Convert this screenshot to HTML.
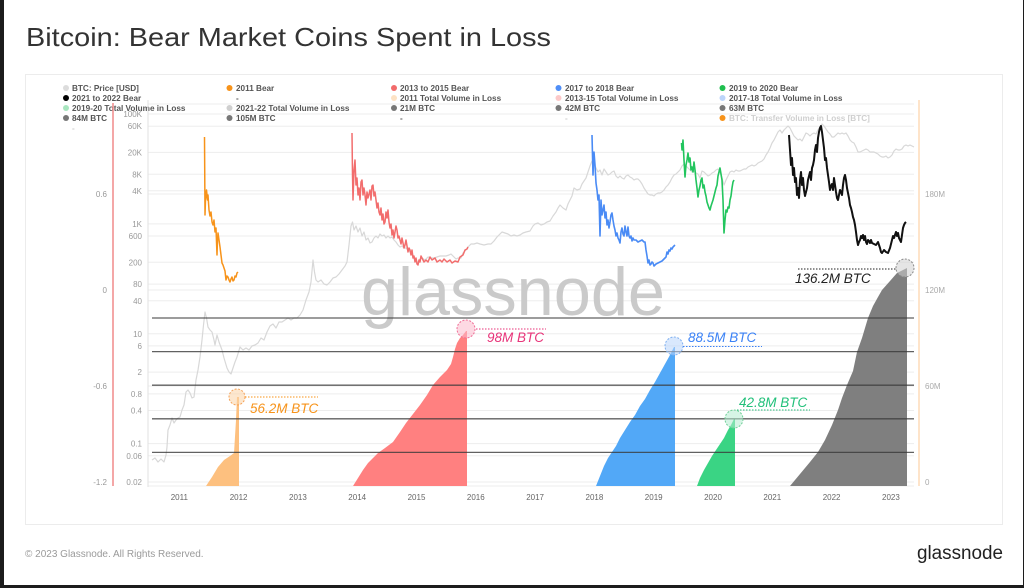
<!DOCTYPE html>
<html>
<head>
<meta charset="utf-8">
<style>
html,body{margin:0;padding:0;background:#fff;}
svg{display:block;font-family:"Liberation Sans",Arial,sans-serif;}
</style>
</head>
<body>
<svg width="1024" height="588" viewBox="0 0 1024 588" xmlns="http://www.w3.org/2000/svg">
<rect x="0" y="0" width="1024" height="588" fill="#ffffff"/>
<!-- dark screenshot borders -->
<rect x="0" y="0" width="4" height="588" fill="#1c1c1c"/>
<rect x="0" y="585" width="1024" height="3" fill="#1c1c1c"/>
<rect x="1023" y="0" width="1" height="588" fill="#1c1c1c"/>

<!-- title -->
<text x="26" y="46" font-size="26" fill="#333" textLength="525" lengthAdjust="spacingAndGlyphs">Bitcoin: Bear Market Coins Spent in Loss</text>

<!-- container -->
<rect x="25.5" y="74.5" width="977" height="450" fill="none" stroke="#ececec" stroke-width="1"/>

<!-- legend -->
<g font-size="8.2" font-weight="bold" fill="#555">
  <circle cx="66" cy="88" r="3" fill="#dcdcdc"/><text x="72" y="91">BTC: Price [USD]</text>
  <circle cx="229.5" cy="88" r="3" fill="#f7931a"/><text x="236" y="91">2011 Bear</text>
  <circle cx="394" cy="88" r="3" fill="#f26b6b"/><text x="400" y="91">2013 to 2015 Bear</text>
  <circle cx="558.5" cy="88" r="3" fill="#4f8ef7"/><text x="565" y="91">2017 to 2018 Bear</text>
  <circle cx="722.5" cy="88" r="3" fill="#1fbf4f"/><text x="729" y="91">2019 to 2020 Bear</text>

  <circle cx="66" cy="98" r="3" fill="#000"/><text x="72" y="101">2021 to 2022 Bear</text>
  <text x="236" y="101">-</text>
  <circle cx="394" cy="98" r="3" fill="#fde2c4"/><text x="400" y="101">2011 Total Volume in Loss</text>
  <circle cx="558.5" cy="98" r="3" fill="#fcc9c9"/><text x="565" y="101">2013-15 Total Volume in Loss</text>
  <circle cx="722.5" cy="98" r="3" fill="#bcd5fa"/><text x="729" y="101">2017-18 Total Volume in Loss</text>

  <circle cx="66" cy="108" r="3" fill="#a8e6bf"/><text x="72" y="111">2019-20 Total Volume in Loss</text>
  <circle cx="229.5" cy="108" r="3" fill="#cfcfcf"/><text x="236" y="111">2021-22 Total Volume in Loss</text>
  <circle cx="394" cy="108" r="3" fill="#777"/><text x="400" y="111">21M BTC</text>
  <circle cx="558.5" cy="108" r="3" fill="#777"/><text x="565" y="111">42M BTC</text>
  <circle cx="722.5" cy="108" r="3" fill="#777"/><text x="729" y="111">63M BTC</text>

  <circle cx="66" cy="118" r="3" fill="#777"/><text x="72" y="121">84M BTC</text>
  <circle cx="229.5" cy="118" r="3" fill="#777"/><text x="236" y="121">105M BTC</text>
  <text x="400" y="121">-</text>
  <text x="565" y="121" fill="#ccc">-</text>
  <circle cx="722.5" cy="118" r="3" fill="#f7931a"/><text x="729" y="121" fill="#cfcfcf">BTC: Transfer Volume in Loss [BTC]</text>
  <text x="72" y="131" fill="#ccc">-</text>
</g>

<!-- gridlines -->
<g stroke="#ededed" stroke-width="1">
  <line x1="148" y1="104" x2="914" y2="104"/>
  <line x1="148" y1="114" x2="914" y2="114"/>
  <line x1="148" y1="126.2" x2="914" y2="126.2"/>
  <line x1="148" y1="152.4" x2="914" y2="152.4"/>
  <line x1="148" y1="174.3" x2="914" y2="174.3"/>
  <line x1="148" y1="190.8" x2="914" y2="190.8"/>
  <line x1="148" y1="194" x2="914" y2="194"/>
  <line x1="148" y1="223.9" x2="914" y2="223.9"/>
  <line x1="148" y1="236" x2="914" y2="236"/>
  <line x1="148" y1="262.3" x2="914" y2="262.3"/>
  <line x1="148" y1="284.1" x2="914" y2="284.1"/>
  <line x1="148" y1="290" x2="914" y2="290"/>
  <line x1="148" y1="300.7" x2="914" y2="300.7"/>
  <line x1="148" y1="333.7" x2="914" y2="333.7"/>
  <line x1="148" y1="345.9" x2="914" y2="345.9"/>
  <line x1="148" y1="372.1" x2="914" y2="372.1"/>
  <line x1="148" y1="386" x2="914" y2="386"/>
  <line x1="148" y1="393.9" x2="914" y2="393.9"/>
  <line x1="148" y1="410.5" x2="914" y2="410.5"/>
  <line x1="148" y1="443.6" x2="914" y2="443.6"/>
  <line x1="148" y1="455.8" x2="914" y2="455.8"/>
  <line x1="148" y1="482" x2="914" y2="482"/>
  <line x1="148" y1="486" x2="914" y2="486"/>
</g>
<line x1="148" y1="100" x2="148" y2="487" stroke="#e2e2e2" stroke-width="1"/>

<!-- watermark -->
<text x="361" y="315" font-size="68" fill="#cacaca" textLength="304" lengthAdjust="spacingAndGlyphs">glassnode</text>

<!-- price line -->
<polyline fill="none" stroke="#d8d8d8" stroke-width="1.2" stroke-linejoin="round" points="152,460 155,458 158,462 161,459 164,462 166,455 167,447 168,430 170,425 172,418 174,423 176,420 178,418 180,417 182,410 184,405 186,392 188,390 190,393 192,398 194,397 196,380 198,370 200,357 202,340 203.5,325 205,312 206.5,318 208,327 210,330 212,332 214,340 215,345 217,335 219,342 222,350 224,358 227,368 229,372 231,374 233,368 235,362 237,357 240,347 243,350 246,348 249,350 252,346 255,345 258,343 261,338 264,340 267,332 270,326 273,324 276,328 279,322 282,322 285,320 288,318 291,320 294,318 297,318 300,315 303,310 306,300 309,292 311,282 313,260 314.5,272 316,280 318,282 321,280 324,284 327,285 330,282 333,278 336,277 339,274 342,270 345,266 347,262 349,245 351,226 352.5,222 354,230 356,226 358,232 360,228 362,236 364,232 366,240 368,238 370,243 372,242 374,238 376,236 378,238 380,234 382,236 384,235 386,238 388,236 390,238 392,237 394,240 396,242 398,245 400,247 402,246 404,248 406,248 408,250 410,252 412,253 414,258 416,260 418,263 420,259 422,258 425,260 428,257 431,258 434,258 437,257 440,256 443,256 446,256 449,255 451,254 454,257 456,259 458,258 461,258 463,253 466,250 468,247 471,244 474,244 477,243 480,244 484,245 488,244 491,244 494,241 497,237 500,234 502,232 505,233 508,234 511,236 514,235 517,236 520,235 523,233 526,232 530,231 533,226 535,224 538,223 541,225 544,224 547,222 550,221 553,216 556,212 558,208 560,205 563,208 566,210 568,204 570,200 572,196 574,188 577,190 580,189 582,184 584,181 586,178 588,172 590,166 592,161 594,163 596,168 598,172 600,170 602,175 604,169 606,172 608,175 610,174 612,172 614,171 616,176 618,178 620,176 622,178 624,179 626,176 628,175 630,177 632,178 634,180 636,179 638,179 640,181 642,184 644,188 646,191 648,194 650,195 652,195 654,196 656,194 658,193 660,193 662,192 664,190 666,187 668,185 670,182 672,178 674,175 676,174 678,172 680,170 682,166 684,164 686,166 688,168 690,170 692,172 694,171 696,173 698,174 700,178 702,171 704,172 706,174 708,176 710,175 712,173 714,172 716,170 718,169 720,172 722,178 724,185 726,180 728,176 730,172 732,171 734,172 736,170 738,171 740,171 742,170 744,169 746,169 748,167 750,166 752,165 754,166 756,165 758,163 760,162 762,161 764,159 766,155 768,152 770,148 772,143 774,140 776,136 778,132 780,130 782,133 784,130 786,128 788,126 790,128 792,132 794,136 796,138 798,140 800,139 802,141 804,137 806,133 808,134 810,136 812,134 814,133 816,134 818,130 820,127 822,124 824,126 826,129 828,132 830,134 832,137 834,137 836,135 838,133 840,134 842,133 844,134 846,133 848,136 850,140 852,142 854,143 856,147 858,152 860,152 862,151 864,150 866,149 868,150 870,152 872,152 874,152 876,153 878,154 880,156 882,157 884,157 886,156 888,158 890,157 892,155 894,151 896,149 898,150 900,150 902,149 904,146 906,145 908,146 910,145 912,146 914,147"/>

<!-- bear lines -->
<polyline fill="none" stroke="#f7931a" stroke-width="1.5" stroke-linejoin="round" points="204.5,137 205,215 205.5,200 206.5,190 207.5,200 208,195 209,210 210,216 211,212 212,222 213,225 214,220 215,232 216,228 217,255 217.5,240 218,233 219,240 220,247 221,255 222,263 223,265 224,268 225,271 226,280 227,276 228,277 229,280 230,282 231,279 232,277 233,281 234,280 235,276 236,277 237,273 238,272"/>
<polyline fill="none" stroke="#f26d6d" stroke-width="1.5" stroke-linejoin="round" points="352,133 352.5,175 353,200 354,170 355,160 356,185 357,178 358,195 359,188 360,200 361,182 362,180 363,195 364,188 365,195 366,205 367,192 368,198 370,190 371,200 372,186 373,185 374,196 375,192 376,200 377,208 378,203 379,212 380,215 381,208 382,220 383,214 384,224 385,222 386,212 387,218 388,210 389,222 390,228 391,224 392,235 393,230 394,238 395,232 396,226 397,230 398,238 399,236 400,240 401,244 402,238 403,243 404,248 405,245 406,240 407,246 408,252 409,248 410,250 411,255 412,250 413,258 414,256 415,262 416,258 417,264 418,265 419,260 420,262 421,256 422,258 424,262 426,260 428,262 430,257 432,260 435,258 437,262 440,260 442,262 444,259 447,262 450,260 452,263 455,261 458,262 460,257 463,255 465,250 467,249 468,247"/>
<polyline fill="none" stroke="#4a8bf5" stroke-width="1.6" stroke-linejoin="round" points="592,135 593,175 594,152 595,165 596,183 597,190 598,200 599,195 600,236 601,200 602,215 603,210 604,205 605,218 606,212 607,225 608,220 609,228 610,222 611,215 612,213 613,220 614,226 615,230 616,236 617,233 618,238 619,240 620,243 621,232 622,228 623,234 624,236 625,226 626,232 627,236 628,227 629,236 630,238 631,236 632,241 633,238 634,240 636,240 638,242 640,241 642,240 644,242 645,242 646,250 647,256 648,263 649,260 650,265 651,264 652,262 653,263 654,266 656,264 658,263 660,262 662,261 664,259 666,257 667,252 668,254 669,250 670,251 671,248 672,249 673,247 675,245"/>
<polyline fill="none" stroke="#22c55e" stroke-width="1.6" stroke-linejoin="round" points="681.5,143 682,150 683,140 684,160 685,177 686,165 687,160 688,153 689,162 690,158 691,170 692,167 693,172 694,162 695,170 696,180 697,188 698,197 699,190 700,186 701,180 702,178 703,188 704,185 705,192 706,196 707,202 708,205 709,208 710,210 711,206 712,203 713,200 714,196 715,192 716,188 717,185 718,176 719,172 720,168 721,174 722,180 723,200 724,233 725,220 726,210 727,212 728,207 729,208 730,200 731,196 732,188 733,182 734,180"/>
<polyline fill="none" stroke="#111" stroke-width="2" stroke-linejoin="round" points="789,135 790,150 791,165 792,158 793,175 794,168 795,182 796,178 797,195 798,188 799,198 800,180 801,172 802,185 803,178 804,190 805,196 806,192 807,188 808,180 809,176 810,172 811,180 812,168 813,165 814,160 815,150 816,145 817,152 818,138 819,132 820,128 821,126 822,132 823,140 824,148 825,160 826,158 827,168 828,175 829,182 830,190 831,186 832,184 833,190 834,178 835,185 836,192 837,198 838,200 839,195 840,190 841,192 842,195 843,185 844,178 845,175 846,180 847,188 848,193 849,198 850,205 851,208 852,212 853,217 854,220 855,225 856,232 857,240 858,245 859,242 860,240 861,236 862,238 863,235 864,240 865,236 866,242 867,244 868,240 869,241 870,243 871,240 872,243 874,244 876,245 878,242 880,248 881,252 882,253 884,250 886,252 888,253 890,248 891,244 892,240 893,236 894,238 895,235 896,232 897,236 898,233 899,238 900,240 901,242 902,235 903,228 904,225 905,223 906,222"/>

<!-- volume areas -->
<polygon fill="#fdc07f" points="206,486 212,477 218,467 224,460 230,456 234,453 236,420 237,397 239,397 239,486"/>
<polygon fill="#ff8080" points="353,486 358,478 363,470 368,463 373,458 378,453 385,448 393,442 400,432 406,423 413,414 420,405 427,395 433,385 440,377 447,370 451,364 453,357 455,349 457,343 460,338 463,335 466,331 467,331 467,486"/>
<polygon fill="#52a8f7" points="596,486 600,476 604,466 608,458 612,452 616,446 620,438 625,430 630,422 635,415 640,406 645,399 650,390 655,382 660,373 665,364 670,355 674,347 675,347 675,486"/>
<polygon fill="#3ad484" points="697,486 700,478 704,470 708,463 712,456 716,450 720,444 724,438 728,430 731,425 734,419 735,419 735,486"/>
<polygon fill="#7f7f7f" points="790,486 800,474 810,462 818,452 825,440 832,425 838,410 842,398 847,385 853,371 857,352 862,338 868,318 873,306 878,297 882,290 890,281 897,273 903,270 907,268 907,486"/>

<!-- BTC supply lines -->
<g stroke="#3a3a3a" stroke-opacity="0.8" stroke-width="1.3">
  <line x1="152" y1="318" x2="914" y2="318"/>
  <line x1="152" y1="351.6" x2="914" y2="351.6"/>
  <line x1="152" y1="385.2" x2="914" y2="385.2"/>
  <line x1="152" y1="418.8" x2="914" y2="418.8"/>
  <line x1="152" y1="452.4" x2="914" y2="452.4"/>
</g>

<!-- annotation circles and dotted lines -->
<g stroke-width="1" fill-opacity="0.55">
  <circle cx="237" cy="397" r="8" fill="#fcd3a6" stroke="#f5a35a" stroke-dasharray="2,1.5"/>
  <circle cx="466" cy="329" r="9" fill="#fbb9cc" stroke="#ef6d96" stroke-dasharray="2,1.5"/>
  <circle cx="674" cy="346" r="9" fill="#b9d6fb" stroke="#7fb0f0" stroke-dasharray="2,1.5"/>
  <circle cx="734" cy="419" r="9" fill="#b5ebcf" stroke="#6fcf97" stroke-dasharray="2,1.5"/>
  <circle cx="905" cy="268" r="9" fill="#d0d0d0" stroke="#8a8a8a" stroke-dasharray="2,1.5"/>
</g>
<g stroke-width="1" stroke-dasharray="1.5,1.5">
  <line x1="245" y1="397" x2="318" y2="397" stroke="#f7931a"/>
  <line x1="476" y1="329" x2="546" y2="329" stroke="#e8357a"/>
  <line x1="683" y1="346.5" x2="762" y2="346.5" stroke="#3b82f6"/>
  <line x1="737" y1="410" x2="810" y2="410" stroke="#22c07a"/>
  <line x1="798" y1="269" x2="897" y2="269" stroke="#222"/>
</g>
<g font-size="13.5" font-style="italic">
  <text x="250" y="413" fill="#f7931a">56.2M BTC</text>
  <text x="487" y="342" fill="#e8357a">98M BTC</text>
  <text x="688" y="342" fill="#3b82f6">88.5M BTC</text>
  <text x="739" y="407" fill="#22c07a">42.8M BTC</text>
  <text x="795" y="283" fill="#222">136.2M BTC</text>
</g>

<!-- left red axis -->
<line x1="113" y1="103" x2="113" y2="486" stroke="#f08a8a" stroke-width="1.5"/>
<g font-size="8" fill="#999" text-anchor="end">
  <text x="107" y="197">0.6</text>
  <text x="107" y="293">0</text>
  <text x="107" y="389">-0.6</text>
  <text x="107" y="485">-1.2</text>
</g>
<!-- price axis labels -->
<g font-size="8" fill="#999" text-anchor="end">
  <text x="142" y="117">100K</text>
  <text x="142" y="129">60K</text>
  <text x="142" y="155.5">20K</text>
  <text x="142" y="177.5">8K</text>
  <text x="142" y="194">4K</text>
  <text x="142" y="227">1K</text>
  <text x="142" y="239">600</text>
  <text x="142" y="265.5">200</text>
  <text x="142" y="287">80</text>
  <text x="142" y="304">40</text>
  <text x="142" y="337">10</text>
  <text x="142" y="349">6</text>
  <text x="142" y="375">2</text>
  <text x="142" y="397">0.8</text>
  <text x="142" y="413.5">0.4</text>
  <text x="142" y="446.5">0.1</text>
  <text x="142" y="459">0.06</text>
  <text x="142" y="485">0.02</text>
</g>
<!-- right axis -->
<line x1="919" y1="100" x2="919" y2="486" stroke="#fddcb8" stroke-width="1.5"/>
<g font-size="8" fill="#aaa">
  <text x="925" y="197">180M</text>
  <text x="925" y="293">120M</text>
  <text x="925" y="389">60M</text>
  <text x="925" y="485">0</text>
</g>
<!-- x axis years -->
<g font-size="8" fill="#666" text-anchor="middle">
  <text x="179.3" y="500">2011</text>
  <text x="238.6" y="500">2012</text>
  <text x="297.9" y="500">2013</text>
  <text x="357.2" y="500">2014</text>
  <text x="416.5" y="500">2015</text>
  <text x="475.8" y="500">2016</text>
  <text x="535.1" y="500">2017</text>
  <text x="594.4" y="500">2018</text>
  <text x="653.7" y="500">2019</text>
  <text x="713" y="500">2020</text>
  <text x="772.3" y="500">2021</text>
  <text x="831.6" y="500">2022</text>
  <text x="890.9" y="500">2023</text>
</g>

<!-- footer -->
<text x="25" y="557" font-size="10" fill="#9a9a9a">© 2023 Glassnode. All Rights Reserved.</text>
<text x="917" y="559" font-size="19" fill="#222" textLength="86" lengthAdjust="spacingAndGlyphs">glassnode</text>
</svg>
</body>
</html>
